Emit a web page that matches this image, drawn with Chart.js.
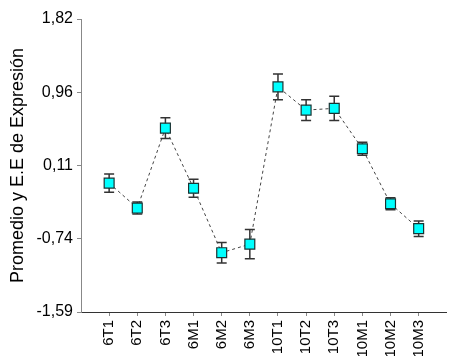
<!DOCTYPE html>
<html>
<head>
<meta charset="utf-8">
<script src="https://cdn.jsdelivr.net/npm/chart.js@4/dist/chart.umd.min.js"></script>
<style>
  html, body { margin: 0; padding: 0; background: #ffffff; }
  #wrap { width: 455px; height: 356px; position: relative; }
</style>
</head>
<body>
<div id="wrap"><canvas id="chart" width="455" height="356"></canvas></div>
<script>
// Muestras (tratamiento / tiempo)
const categories = ['6T1', '6T2', '6T3', '6M1', '6M2', '6M3', '10T1', '10T2', '10T3', '10M1', '10M2', '10M3'];
// Promedio de expresión por muestra
const means = [-0.09, -0.38, 0.55, -0.15, -0.90, -0.80, 1.03, 0.76, 0.78, 0.31, -0.33, -0.62];
// Error estándar de cada promedio
const stdErrors = [0.105, 0.07, 0.12, 0.105, 0.12, 0.17, 0.15, 0.12, 0.14, 0.075, 0.07, 0.09];
// Marcas del eje Y
const yTicks = [-1.59, -0.74, 0.11, 0.96, 1.82];

const FONT = "'Liberation Sans', Arial, sans-serif";

// Barras de error (media ± E.E) dibujadas con las escalas del gráfico
const errorBars = {
  id: 'errorBars',
  beforeDatasetsDraw(chart) {
    const { ctx, scales: { x, y } } = chart;
    ctx.save();
    ctx.strokeStyle = '#333333';
    ctx.lineWidth = 1.5;
    const cap = 5;
    means.forEach((m, i) => {
      const px = x.getPixelForValue(i + 1);
      const top = y.getPixelForValue(m + stdErrors[i]);
      const bot = y.getPixelForValue(m - stdErrors[i]);
      ctx.beginPath();
      ctx.moveTo(px, top); ctx.lineTo(px, bot);
      ctx.moveTo(px - cap, top); ctx.lineTo(px + cap, top);
      ctx.moveTo(px - cap, bot); ctx.lineTo(px + cap, bot);
      ctx.stroke();
    });
    ctx.restore();
  }
};

new Chart(document.getElementById('chart'), {
  type: 'line',
  data: {
    datasets: [{
      data: means.map((v, i) => ({ x: i + 1, y: v })),
      borderColor: '#444444',
      borderWidth: 1,
      borderDash: [3, 3],
      pointStyle: 'rect',
      pointRadius: 7,
      pointHoverRadius: 7,
      pointBackgroundColor: '#00FFFF',
      pointBorderColor: '#1a3333',
      pointBorderWidth: 1.2,
      tension: 0
    }]
  },
  options: {
    responsive: false,
    animation: false,
    layout: { padding: { top: 19, right: 1, left: 0, bottom: 0 } },
    plugins: { legend: { display: false }, tooltip: { enabled: false } },
    scales: {
      x: {
        type: 'linear',
        min: 0,
        max: 13,
        afterBuildTicks: (scale) => { scale.ticks = categories.map((c, i) => ({ value: i + 1 })); },
        afterFit: (scale) => { scale.height = 44; },
        ticks: {
          autoSkip: false,
          minRotation: 90,
          maxRotation: 90,
          padding: 4,
          color: '#000000',
          font: { family: FONT, size: 15 },
          callback: (v) => categories[v - 1]
        },
        grid: { drawOnChartArea: false, drawTicks: true, tickLength: 4, color: '#888888' },
        border: { display: true, color: '#333333', width: 1 }
      },
      y: {
        min: -1.59,
        max: 1.82,
        afterBuildTicks: (scale) => { scale.ticks = yTicks.map(v => ({ value: v })); },
        afterFit: (scale) => { scale.width = 81; },
        ticks: {
          padding: 4,
          color: '#000000',
          font: { family: FONT, size: 16 },
          callback: (v) => v.toFixed(2).replace('.', ',')
        },
        grid: { drawOnChartArea: false, drawTicks: true, tickLength: 4, color: '#888888' },
        border: { display: true, color: '#888888', width: 1 },
        title: {
          display: true,
          text: 'Promedio y E.E de Expresión',
          color: '#000000',
          font: { family: FONT, size: 18 },
          padding: { top: 7, bottom: 0 }
        }
      }
    }
  },
  plugins: [errorBars]
});
</script>
</body>
</html>
